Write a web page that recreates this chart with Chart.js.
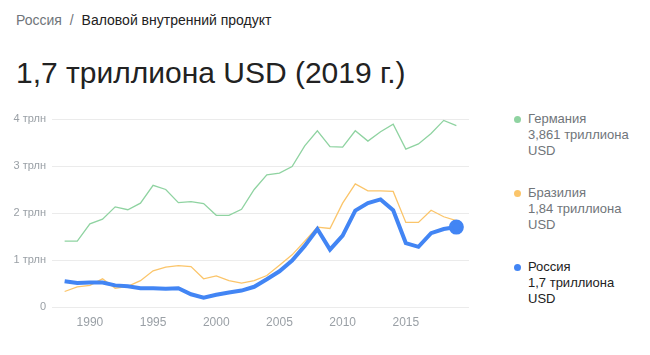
<!DOCTYPE html>
<html lang="ru">
<head>
    <meta charset="UTF-8">
    <title>Россия - Валовой внутренний продукт</title>
    <script src="https://cdn.jsdelivr.net/npm/chart.js"></script>
    <style>
        body { margin: 0; background: #fff; font-family: Arial, "Liberation Sans", sans-serif; }
        .pagina { position: relative; width: 650px; height: 355px; overflow: hidden; }
        .migas { position: absolute; left: 16px; top: 12px; font-size: 14px; color: #222; }
        .migas span { color: #70757a; }
        .migas b { font-weight: normal; color: #70757a; margin: 0 4px; }
        .titulo { position: absolute; left: 16px; top: 56px; font-size: 30px; color: #222; }
        #grafico { position: absolute; left: 0; top: 100px; }
        .leyenda { position: absolute; left: 528px; font-size: 13px; line-height: 16px; color: #70757a; }
        .leyenda i { position: absolute; left: -14px; top: 5px; width: 7px; height: 7px; border-radius: 50%; }
    </style>
</head>
<body>
<div class="pagina">
    <div class="migas"><span>Россия</span> <b>/</b> Валовой внутренний продукт</div>
    <div class="titulo">1,7 триллиона USD (2019 г.)</div>
    <canvas id="grafico" width="480" height="237"></canvas>
    <div class="leyenda" style="top:111px"><i style="background:#8fd3a1"></i>Германия<br>3,861 триллиона<br>USD</div>
    <div class="leyenda" style="top:185px"><i style="background:#fbc56a"></i>Бразилия<br>1,84 триллиона<br>USD</div>
    <div class="leyenda" style="top:259px;color:#222"><i style="background:#4285f4"></i>Россия<br>1,7 триллиона<br>USD</div>
</div>

<script>
    // datos (трлн USD)
    const anios = [1988, 1989, 1990, 1991, 1992, 1993, 1994, 1995, 1996, 1997, 1998, 1999, 2000, 2001, 2002, 2003,
                   2004, 2005, 2006, 2007, 2008, 2009, 2010, 2011, 2012, 2013, 2014, 2015, 2016, 2017, 2018, 2019];
    const germania = [1.40, 1.40, 1.77, 1.87, 2.13, 2.07, 2.21, 2.59, 2.50, 2.22, 2.24, 2.20, 1.95, 1.95, 2.08, 2.50,
                      2.81, 2.85, 2.99, 3.43, 3.75, 3.41, 3.40, 3.75, 3.53, 3.73, 3.89, 3.36, 3.47, 3.69, 3.97, 3.86];
    const brasil = [0.33, 0.43, 0.46, 0.60, 0.40, 0.44, 0.56, 0.77, 0.85, 0.88, 0.86, 0.60, 0.66, 0.56, 0.51, 0.56,
                    0.67, 0.89, 1.11, 1.40, 1.70, 1.67, 2.21, 2.62, 2.47, 2.47, 2.46, 1.80, 1.80, 2.06, 1.92, 1.84];
    const rusia = [0.55, 0.51, 0.52, 0.52, 0.46, 0.44, 0.40, 0.40, 0.39, 0.40, 0.27, 0.20, 0.26, 0.31, 0.35, 0.43,
                   0.59, 0.76, 0.99, 1.30, 1.66, 1.22, 1.52, 2.05, 2.21, 2.29, 2.06, 1.36, 1.28, 1.57, 1.66, 1.70];
    const ticksX = [1990, 1995, 2000, 2005, 2010, 2015];
    const ticksY = [0, 1, 2, 3, 4];

    function puntos(valores) {
        return anios.map((a, i) => ({ x: a, y: valores[i] }));
    }

    const ctx = document.getElementById('grafico').getContext('2d');
    new Chart(ctx, {
        type: 'line',
        data: {
            datasets: [
                {
                    label: 'Россия',
                    data: puntos(rusia),
                    borderColor: '#4285f4',
                    backgroundColor: '#4285f4',
                    borderWidth: 4,
                    pointRadius: rusia.map((v, i) => i === rusia.length - 1 ? 5.5 : 0),
                    tension: 0
                },
                {
                    label: 'Бразилия',
                    data: puntos(brasil),
                    borderColor: '#fbc56a',
                    borderWidth: 1.3,
                    pointRadius: 0,
                    tension: 0
                },
                {
                    label: 'Германия',
                    data: puntos(germania),
                    borderColor: '#8fd3a1',
                    borderWidth: 1.3,
                    pointRadius: 0,
                    tension: 0
                }
            ]
        },
        options: {
            responsive: false,
            animation: false,
            layout: { padding: { top: 19, right: 11, left: 0, bottom: 0 } },
            plugins: { legend: { display: false }, tooltip: { enabled: false } },
            scales: {
                x: {
                    type: 'linear',
                    min: 1987,
                    max: 2020,
                    afterBuildTicks: (eje) => { eje.ticks = ticksX.map(v => ({ value: v })); },
                    afterFit: (eje) => { eje.height = 30; },
                    grid: { display: false, drawTicks: false },
                    border: { display: false },
                    ticks: { color: '#9aa0a6', font: { size: 12, family: 'Arial' }, padding: 8, callback: v => String(v) }
                },
                y: {
                    min: 0,
                    max: 4,
                    afterBuildTicks: (eje) => { eje.ticks = ticksY.map(v => ({ value: v })); },
                    afterFit: (eje) => { eje.width = 52; },
                    grid: { color: '#ebebeb', drawTicks: false },
                    border: { display: false },
                    ticks: { color: '#9aa0a6', font: { size: 11, family: 'Arial' }, padding: 6,
                             callback: v => v === 0 ? '0' : v + ' трлн' }
                }
            }
        }
    });
</script>
</body>
</html>
